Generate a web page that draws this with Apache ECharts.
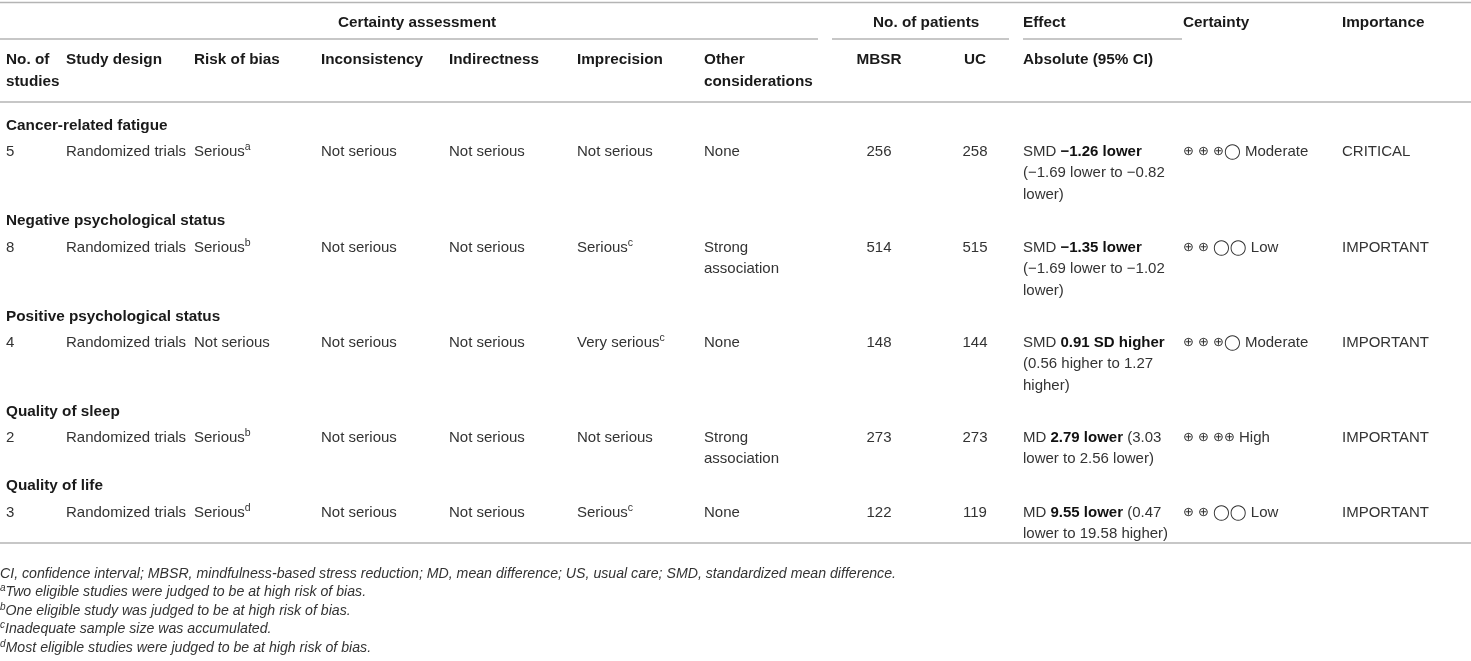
<!DOCTYPE html>
<html>
<head>
<meta charset="utf-8">
<title>MBSR GRADE table</title>
<script src="https://cdn.jsdelivr.net/npm/echarts@6/dist/echarts.min.js"></script>
<style>
  html, body { margin: 0; padding: 0; background: #fff; }
  #tabela { width: 1471px; height: 661px; }
</style>
</head>
<body>
<div id="tabela"></div>
<script>
// dados da tabela
var outcomes = ['Cancer-related fatigue', 'Negative psychological status', 'Positive psychological status', 'Quality of sleep', 'Quality of life'];
var numStudies = ['5', '8', '4', '2', '3'];
var studyDesign = ['Randomized trials', 'Randomized trials', 'Randomized trials', 'Randomized trials', 'Randomized trials'];
var riskOfBias = ['Serious{sup|a}', 'Serious{sup|b}', 'Not serious', 'Serious{sup|b}', 'Serious{sup|d}'];
var inconsistency = ['Not serious', 'Not serious', 'Not serious', 'Not serious', 'Not serious'];
var indirectness = ['Not serious', 'Not serious', 'Not serious', 'Not serious', 'Not serious'];
var imprecision = ['Not serious', 'Serious{sup|c}', 'Very serious{sup|c}', 'Not serious', 'Serious{sup|c}'];
var otherConsiderations = ['None', 'Strong\nassociation', 'None', 'Strong\nassociation', 'None'];
var patientsMBSR = [256, 514, 148, 273, 122];
var patientsUC = [258, 515, 144, 273, 119];
var effect = [
    'SMD {b|\u22121.26 lower}\n(\u22121.69 lower to \u22120.82\nlower)',
    'SMD {b|\u22121.35 lower}\n(\u22121.69 lower to \u22121.02\nlower)',
    'SMD {b|0.91 SD higher}\n(0.56 higher to 1.27\nhigher)',
    'MD {b|2.79 lower} (3.03\nlower to 2.56 lower)',
    'MD {b|9.55 lower} (0.47\nlower to 19.58 higher)'
];
var certainty = [
    '{sym|\u2295 \u2295 \u2295}{circ|\u25EF} Moderate',
    '{sym|\u2295 \u2295 }{circ|\u25EF\u25EF} Low',
    '{sym|\u2295 \u2295 \u2295}{circ|\u25EF} Moderate',
    '{sym|\u2295 \u2295 \u2295\u2295} High',
    '{sym|\u2295 \u2295 }{circ|\u25EF\u25EF} Low'
];
var importance = ['CRITICAL', 'IMPORTANT', 'IMPORTANT', 'IMPORTANT', 'IMPORTANT'];

var headerTop = ['Certainty assessment', 'No. of patients', 'Effect', 'Certainty', 'Importance'];
var headerSub = ['No. of\nstudies', 'Study design', 'Risk of bias', 'Inconsistency', 'Indirectness', 'Imprecision', 'Other\nconsiderations', 'MBSR', 'UC', 'Absolute (95% CI)'];

var footnotes = [
    'CI, confidence interval; MBSR, mindfulness-based stress reduction; MD, mean difference; US, usual care; SMD, standardized mean difference.',
    '{sup|a}Two eligible studies were judged to be at high risk of bias.',
    '{sup|b}One eligible study was judged to be at high risk of bias.',
    '{sup|c}Inadequate sample size was accumulated.',
    '{sup|d}Most eligible studies were judged to be at high risk of bias.'
];

// layout (pixels)
var W = 1471, H = 661;
var colX = [6, 66, 194, 321, 449, 577, 704, 879, 975, 1023, 1183, 1342];
var colAlign = ['left', 'left', 'left', 'left', 'left', 'left', 'left', 'center', 'center', 'left', 'left', 'left'];
var topX = [417, 873, 1023, 1183, 1342];
var topAlign = ['center', 'left', 'left', 'left', 'left'];
var yTop = 22, ySub = 59;
var yGroup = [125, 220, 316, 411, 485];
var yRow = [151, 247, 342, 437, 512];
var yFoot = [573, 591, 610, 628, 647];
var LH = 21.3;
var regras = [[0, 2.5, W], [0, 39, 818], [832, 39, 1009], [1023, 39, 1182], [0, 102, W], [0, 543, W]];

var FONT = '"Liberation Sans", Arial, Helvetica, sans-serif';
var richBase = {
    sup: { fontSize: 10.5, fontFamily: FONT, verticalAlign: 'top', lineHeight: 11, fill: '#333' },
    b: { fontSize: 15, fontFamily: FONT, fontWeight: 'bold', fill: '#111', lineHeight: LH },
    sym: { fontSize: 13, fontFamily: '"DejaVu Sans"', fill: '#333', lineHeight: LH },
    circ: { fontSize: 15, fontFamily: '"DejaVu Sans"', fill: '#333', lineHeight: LH }
};

var celulas = [];
function addCell(x, y, text, align, kind) {
    celulas.push({ x: x, y: y, text: text, align: align, kind: kind });
}

headerTop.forEach(function (t, i) { addCell(topX[i], yTop, t, topAlign[i], 'head'); });
headerSub.forEach(function (t, i) { addCell(colX[i], ySub, t, colAlign[i], 'head'); });

outcomes.forEach(function (o, r) {
    addCell(colX[0], yGroup[r], o, 'left', 'head');
    var linha = [numStudies[r], studyDesign[r], riskOfBias[r], inconsistency[r], indirectness[r],
        imprecision[r], otherConsiderations[r], String(patientsMBSR[r]), String(patientsUC[r]),
        effect[r], certainty[r], importance[r]];
    linha.forEach(function (t, c) { addCell(colX[c], yRow[r], t, colAlign[c], 'body'); });
});

footnotes.forEach(function (t, i) { addCell(0, yFoot[i], t, 'left', 'foot'); });

var myChart = echarts.init(document.getElementById('tabela'), null, { renderer: 'canvas' });

var option = {
    animation: false,
    grid: { left: 0, right: 0, top: 0, bottom: 0 },
    xAxis: { type: 'value', min: 0, max: W, show: false },
    yAxis: { type: 'value', min: 0, max: H, inverse: true, show: false },
    series: [
        {
            type: 'custom',
            name: 'regras',
            silent: true,
            data: regras,
            renderItem: function (params, api) {
                var p1 = api.coord([api.value(0), api.value(1)]);
                var p2 = api.coord([api.value(2), api.value(1)]);
                return {
                    type: 'line',
                    shape: { x1: p1[0], y1: p1[1], x2: p2[0], y2: p2[1] },
                    style: { stroke: '#b4b4b4', lineWidth: 1.6 }
                };
            }
        },
        {
            type: 'custom',
            name: 'celulas',
            silent: true,
            data: celulas.map(function (c) { return [c.x, c.y]; }),
            renderItem: function (params, api) {
                var c = celulas[params.dataIndex];
                var p = api.coord([api.value(0), api.value(1)]);
                var head = c.kind === 'head';
                var foot = c.kind === 'foot';
                var lh = foot ? 18 : LH;
                var rich = {
                    sup: Object.assign({}, richBase.sup, foot ? { fontStyle: 'italic', fontSize: 10 } : {}),
                    b: richBase.b,
                    sym: richBase.sym,
                    circ: richBase.circ
                };
                return {
                    type: 'text',
                    x: p[0],
                    y: p[1] - lh / 2 + 1,
                    style: {
                        text: c.text,
                        fontFamily: FONT,
                        fontSize: foot ? 14.15 : (head ? 15.3 : 15),
                        fontWeight: head ? 'bold' : 'normal',
                        fontStyle: foot ? 'italic' : 'normal',
                        fill: head ? '#1a1a1a' : '#333',
                        align: c.align,
                        verticalAlign: 'top',
                        lineHeight: lh,
                        rich: rich
                    }
                };
            }
        }
    ]
};

myChart.setOption(option);
</script>
</body>
</html>
